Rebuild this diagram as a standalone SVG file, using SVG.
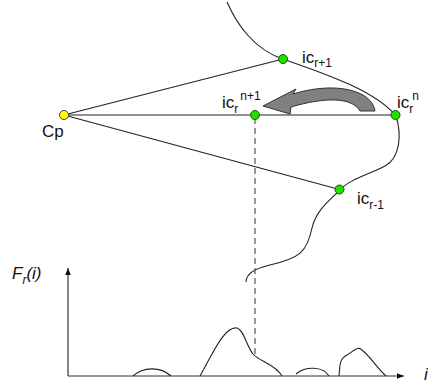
<svg xmlns="http://www.w3.org/2000/svg" width="428" height="384" viewBox="0 0 428 384">
<style>
.ln{stroke:#222;stroke-width:1.1;fill:none}
.ax{stroke:#333;stroke-width:1.2;fill:none}
.dash{stroke:#555;stroke-width:1.2;stroke-dasharray:6,4;fill:none}
.g{fill:#22dd00;stroke:#1a5a00;stroke-width:1}
.y{fill:#ffff00;stroke:#444;stroke-width:1}
.t{font-family:"Liberation Sans",Arial,sans-serif;font-size:17px;fill:#111}
.s{font-size:12px}
.it{font-style:italic}
</style>
<defs>
<marker id="ah" viewBox="0 0 10 10" refX="10" refY="5" markerWidth="7" markerHeight="7" orient="auto" markerUnits="userSpaceOnUse">
<path d="M0,1 L10,5 L0,9 Z" fill="#111"/>
</marker>
</defs>
<g id="connectors">
<path class="ln" d="M64 115 L395 115"/>
<path class="ln" d="M64 115 L283 59"/>
<path class="ln" d="M64 115 L339.5 189.5"/>
<path class="ln" d="M227 2 C237 25,255 50,283 59 C320 72,375 90,396 116 C402 135,400 158,385 166 C370 174,348 180,340 190 C330 200,316 210,312 228 C307 252,300 258,270 265 C252 269,246 275,246 282"/>
<path class="dash" d="M255 118 L255 356"/>
<path class="ax" d="M68 376 L68 268" marker-end="url(#ah)"/>
<path class="ax" d="M68 376 L404 376" marker-end="url(#ah)"/>
<path class="ln" d="M133 376 C143 367,160 366,171 376"/>
<path class="ln" d="M200 376 C212 355,224 326,237 328 C244 330,246 345,253 354 C260 362,275 364,282 376"/>
<path class="ln" d="M296 374 C305 366,323 366,329 376"/>
<path class="ln" d="M339 376 C340 366,339 359,347 355 C355 350,358 346,362 350 C370 356,376 367,386 376"/>
<path d="M375 111 C372 90,335 81,293 94 L296 89 L263 106 L290 114 L291 107 C325 97,352 97,360 111 Z" fill="#808080" stroke="#333" stroke-width="1"/>
</g>
<g id="Cp"><circle class="y" cx="64" cy="115" r="4.5"/><text class="t" x="42" y="137">Cp</text></g>
<g id="icr1"><circle class="g" cx="283" cy="59" r="4.5"/><text class="t" x="302" y="63">ic<tspan class="s" dy="4">r+1</tspan></text></g>
<g id="icrn"><circle class="g" cx="395.5" cy="115" r="4.5"/><text class="t" x="397" y="108">ic<tspan class="s" dy="5">r</tspan><tspan class="s" dx="-1" dy="-13">n</tspan></text></g>
<g id="icrn1"><circle class="g" cx="255" cy="115" r="4.5"/><text class="t" x="222" y="108">ic<tspan class="s" dy="5">r</tspan><tspan class="s" dx="2" dy="-13">n+1</tspan></text></g>
<g id="icrm1"><circle class="g" cx="339.5" cy="189.5" r="4.5"/><text class="t" x="357" y="204">ic<tspan class="s" dy="5">r-1</tspan></text></g>
<g id="Fr"><text class="t it" x="12" y="279" font-size="17">F<tspan class="s" dy="5">r</tspan><tspan dy="-5">(i)</tspan></text></g>
<g id="xlabel"><text class="t it" x="424" y="380" font-size="17">i</text></g>
</svg>
